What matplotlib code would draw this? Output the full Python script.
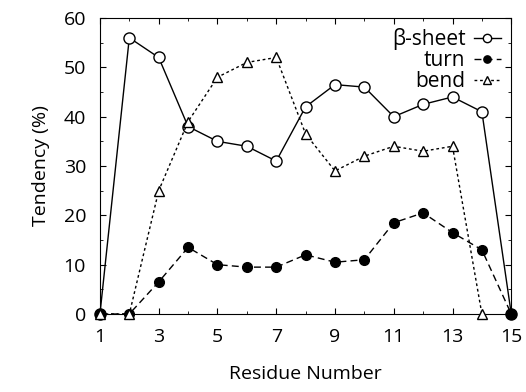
import matplotlib
matplotlib.use("Agg")
import matplotlib.pyplot as plt
from matplotlib.ticker import FixedLocator, MultipleLocator

residues = list(range(1, 16))
beta_sheet = [0, 56, 52, 38, 35, 34, 31, 42, 46.5, 46, 40, 42.5, 44, 41, 0]
turn = [0, 0, 6.5, 13.5, 10, 9.5, 9.5, 12, 10.5, 11, 18.5, 20.5, 16.5, 13, 0]
bend_res = list(range(1, 15))
bend = [0, 0, 25, 39, 48, 51, 52, 36.5, 29, 32, 34, 33, 34, 0]
x_ticks = [1, 3, 5, 7, 9, 11, 13, 15]

plt.rcParams["font.family"] = ["Open Sans", "DejaVu Sans"]

fig = plt.figure(figsize=(5.26, 3.92), dpi=100)
ax = fig.add_axes([0.190, 0.199, 0.782, 0.755])

ax.plot(residues, beta_sheet, color="black", linestyle="-", linewidth=1,
        marker="o", markersize=8, markerfacecolor="white", markeredgewidth=1,
        label="β-sheet", clip_on=False, zorder=3)
ax.plot(residues, turn, color="black", linestyle=(0, (5, 3)), linewidth=1,
        marker="o", markersize=7, markerfacecolor="black",
        label="turn", clip_on=False, zorder=4)
ax.plot(bend_res, bend, color="black", linestyle=(0, (2, 2)), linewidth=1,
        marker="^", markersize=7, markerfacecolor="white", markeredgewidth=1,
        label="bend", clip_on=False, zorder=5)

ax.set_xlim(1, 15)
ax.set_ylim(0, 60)
ax.xaxis.set_major_locator(FixedLocator(x_ticks))
ax.xaxis.set_minor_locator(MultipleLocator(1))
ax.yaxis.set_major_locator(MultipleLocator(10))
ax.yaxis.set_minor_locator(MultipleLocator(5))
ax.tick_params(which="both", direction="in", top=True, right=True, labelsize=14)
ax.tick_params(which="major", length=4, pad=10)
ax.tick_params(which="minor", length=2)

ax.set_xlabel("Residue Number", fontsize=14, labelpad=14)
ax.set_ylabel("Tendency (%)", fontsize=14, labelpad=10)

ax.legend(loc="upper right", frameon=False, markerfirst=False, fontsize=15,
          handlelength=1.3, handletextpad=0.4, labelspacing=0.0,
          borderaxespad=0.1, markerscale=0.75)

fig.savefig("out.png", dpi=100)
